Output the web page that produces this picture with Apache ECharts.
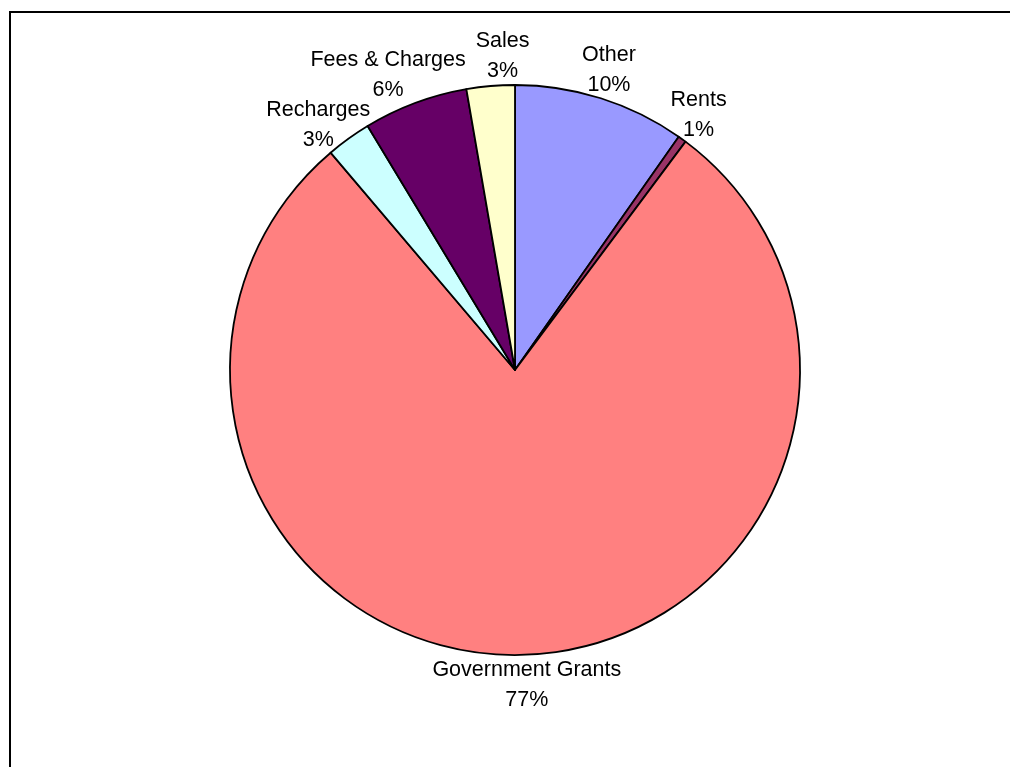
<!DOCTYPE html>
<html>
<head>
<meta charset="utf-8">
<script src="https://cdn.jsdelivr.net/npm/echarts@6/dist/echarts.min.js"></script>
<style>
  html, body { margin: 0; padding: 0; background: #fff; }
  #chart { width: 1010px; height: 767px; }
</style>
</head>
<body>
<div id="chart"></div>
<script>
// slices, clockwise from 12 o'clock
const categories = ['Other', 'Rents', 'Government Grants', 'Recharges', 'Fees & Charges', 'Sales']
const shares = [9.74, 0.47, 78.6, 2.55, 5.92, 2.73]
const percentLabels = ['10%', '1%', '77%', '3%', '6%', '3%']
const colorList = ['#9999ff', '#993366', '#ff8080', '#ccffff', '#660066', '#ffffcc']

const cx = 515
const cy = 370
const pieRadius = 285
const fontSize = 21.5
const lineHeight = 30
const fontFamily = 'Liberation Sans, Arial, sans-serif'

// work out where each label goes: box against the rim at the slice's mid angle,
// then nudge the smaller slice's label when two of them collide (like excel's best fit)
const total = shares.reduce((a, b) => a + b, 0)
const ctx = document.createElement('canvas').getContext('2d')
ctx.font = fontSize + 'px ' + fontFamily
const labelPos = []
let before = 0
for (let i = 0; i < shares.length; i++) {
  const mid = (before + shares[i] / 2) / total * Math.PI * 2
  before += shares[i]
  const sx = Math.sin(mid)
  const sy = -Math.cos(mid)
  const hw = Math.max(ctx.measureText(categories[i]).width, ctx.measureText(percentLabels[i]).width) / 2
  labelPos.push({
    x: cx + pieRadius * sx + hw * sx,
    y: cy + pieRadius * sy + lineHeight * sy,
    hw: hw,
    hh: 23,
  })
}
for (let i = 0; i < labelPos.length; i++) {
  for (let j = i + 1; j < labelPos.length; j++) {
    const a = labelPos[i]
    const b = labelPos[j]
    const ox = a.hw + b.hw - Math.abs(a.x - b.x)
    const oy = a.hh + b.hh - Math.abs(a.y - b.y)
    if (ox <= 0 || oy <= 0) continue
    const mover = shares[i] < shares[j] ? a : b
    const other = mover === a ? b : a
    if (ox < oy) {
      mover.x += (mover.x >= other.x ? 1 : -1) * (ox + 10)
    } else {
      mover.y += (mover.y >= other.y ? 1 : -1) * (oy + 4)
    }
  }
}

const myChart = echarts.init(document.getElementById('chart'))

myChart.setOption({
  animation: false,
  graphic: [{
    type: 'rect',
    shape: { x: 10, y: 12, width: 1100, height: 900 },
    style: { fill: 'none', stroke: '#000', lineWidth: 2 },
    silent: true,
  }],
  series: [
    {
      type: 'pie',
      center: [cx, cy],
      radius: [0, pieRadius],
      startAngle: 90,
      clockwise: true,
      silent: true,
      avoidLabelOverlap: false,
      data: categories.map((name, i) => ({ name: name, value: shares[i] })),
      labelLine: { show: false },
      label: {
        show: true,
        position: 'outside',
        color: '#000',
        fontFamily: fontFamily,
        fontSize: fontSize,
        lineHeight: lineHeight,
        align: 'center',
        formatter: function (params) {
          return params.name + '\n' + percentLabels[params.dataIndex]
        },
      },
      labelLayout: function (params) {
        const p = labelPos[params.dataIndex]
        return {
          x: p.x,
          y: p.y,
          align: 'center',
          verticalAlign: 'middle',
        }
      },
      itemStyle: {
        borderColor: '#000',
        borderWidth: 1.8,
        color: function (params) {
          return colorList[params.dataIndex]
        },
      },
    },
  ],
})
</script>
</body>
</html>
